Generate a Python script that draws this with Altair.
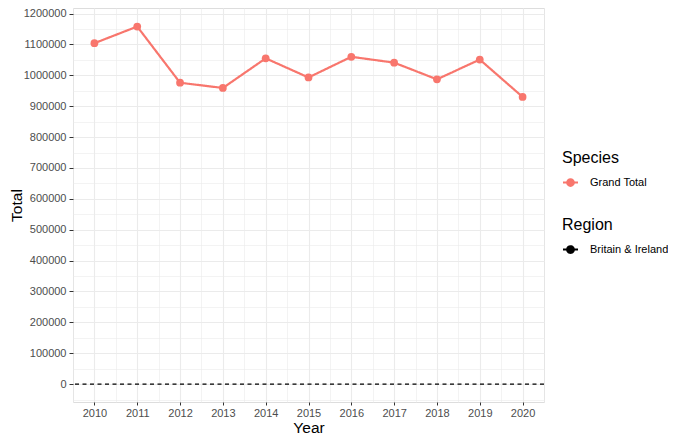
import altair as alt
import pandas as pd

# ---- data ----
years = [2010, 2011, 2012, 2013, 2014, 2015, 2016, 2017, 2018, 2019, 2020]
totals = [1104000, 1158000, 976000, 959000, 1055000, 993000, 1060000, 1041000, 987000, 1051000, 930000]
species = ["Grand Total"] * len(years)
region = ["Britain & Ireland"] * len(years)

# tick positions
year_ticks = [2010, 2011, 2012, 2013, 2014, 2015, 2016, 2017, 2018, 2019, 2020]
year_minor = [2009.5, 2010.5, 2011.5, 2012.5, 2013.5, 2014.5, 2015.5, 2016.5,
              2017.5, 2018.5, 2019.5, 2020.5]
total_ticks = [0, 100000, 200000, 300000, 400000, 500000, 600000, 700000,
               800000, 900000, 1000000, 1100000, 1200000]
total_minor = [-50000, 50000, 150000, 250000, 350000, 450000, 550000, 650000,
               750000, 850000, 950000, 1050000, 1150000]
ref_line = [0]

df = pd.DataFrame({"Year": years, "Total": totals, "Species": species, "Region": region})
ref_df = pd.DataFrame({"ref": ref_line})

FONT = "Liberation Sans"
RED = "#F8766D"
GRID = "#EBEBEB"

x_scale = alt.Scale(domain=[2009.5, 2020.5], nice=False, zero=False)
y_scale = alt.Scale(domain=[-58000, 1218000], nice=False, zero=False)

SYMBOL = "M-1,0L1,0M-0.45,0A0.45,0.45,0,1,1,0.45,0A0.45,0.45,0,1,1,-0.45,0Z"

def legend(title, color, ly):
    return alt.Legend(
        title=title, orient="none", legendX=489, legendY=ly,
        symbolType=SYMBOL, symbolSize=225, symbolStrokeWidth=2,
        symbolFillColor=color, symbolStrokeColor=color,
        titleFontSize=16, titleFontWeight="normal", titleColor="black", titleFont=FONT,
        titlePadding=8, labelFontSize=11, labelColor="black", labelFont=FONT,
        labelOffset=11, labelLimit=200, padding=0,
    )

species_legend = legend("Species", RED, 142)
region_legend = legend("Region", "black", 209)

major_x = alt.Axis(values=year_ticks, format="d", title="Year", orient="bottom",
                   grid=True, gridColor=GRID, gridWidth=1.1, domain=False,
                   tickColor="#333333", tickSize=3, labelColor="#4D4D4D",
                   labelFontSize=11, labelPadding=2, labelFont=FONT,
                   titleFontSize=15.5, titleFontWeight="normal", titleColor="black",
                   titleFont=FONT, titlePadding=2)
major_y = alt.Axis(values=total_ticks, format="d", title="Total", orient="left",
                   grid=True, gridColor=GRID, gridWidth=1.1, domain=False,
                   tickColor="#333333", tickSize=4, labelColor="#4D4D4D",
                   labelFontSize=11, labelPadding=3, labelFont=FONT,
                   titleFontSize=15.5, titleFontWeight="normal", titleColor="black",
                   titleFont=FONT, titleX=-49)
minor_x = alt.Axis(values=year_minor, orient="bottom", grid=True, gridColor=GRID,
                   gridWidth=0.6, labels=False, ticks=False, domain=False, title=None)
minor_y = alt.Axis(values=total_minor, orient="left", grid=True, gridColor=GRID,
                   gridWidth=0.6, labels=False, ticks=False, domain=False, title=None)

base = alt.Chart(df)

minor = base.mark_point(opacity=0).encode(
    x=alt.X("Year:Q", scale=x_scale, axis=minor_x),
    y=alt.Y("Total:Q", scale=y_scale, axis=minor_y),
)

color_enc = alt.Color("Species:N", scale=alt.Scale(domain=["Grand Total"], range=[RED]),
                      legend=species_legend)

line = base.mark_line(strokeWidth=2.2).encode(
    x=alt.X("Year:Q", scale=x_scale, axis=major_x),
    y=alt.Y("Total:Q", scale=y_scale, axis=major_y),
    color=color_enc,
    strokeDash=alt.StrokeDash("Region:N",
                              scale=alt.Scale(domain=["Britain & Ireland"], range=[[1, 0]]),
                              legend=region_legend),
)

points = base.mark_point(filled=True, size=60, opacity=1).encode(
    x=alt.X("Year:Q", scale=x_scale, axis=None),
    y=alt.Y("Total:Q", scale=y_scale, axis=None),
    color=color_enc,
)

hline = alt.Chart(ref_df).mark_rule(color="black", strokeDash=[4, 3.5], strokeWidth=1.2).encode(
    y=alt.Y("ref:Q", scale=y_scale, axis=None),
)

chart = alt.layer(minor, line, points, hline).resolve_axis(
    x="independent", y="independent"
).properties(
    width=471, height=394, autosize="none",
    padding={"left": 65, "top": 0, "right": 124, "bottom": 33},
).configure_view(
    stroke="#333333", strokeWidth=1
).configure(
    font=FONT, background="white"
)

chart.save("out.html", embed_options={"renderer": "svg", "actions": False})
